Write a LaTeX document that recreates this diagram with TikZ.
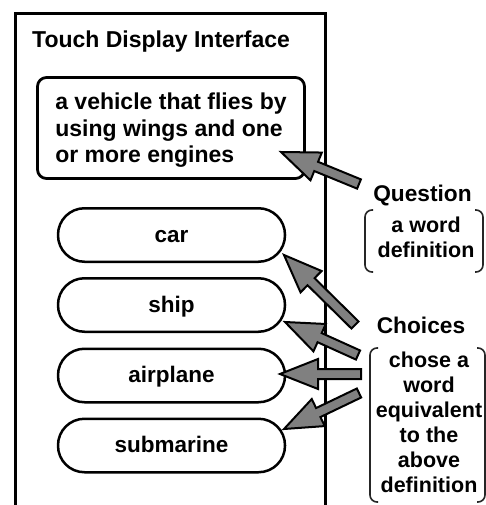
\documentclass[tikz,border=0pt]{standalone}
\usepackage{fontspec}
\setmainfont{Liberation Sans}
\usetikzlibrary{calc}
\tikzset{
  frameline/.style={line width=3pt, line cap=butt},
  titletext/.style={inner sep=0pt, font=\bfseries\fontsize{23}{27}\selectfont},
  defbox/.style={draw, line width=2.8pt, rounded corners=9pt, minimum width=267pt,
    minimum height=101pt, align=left, inner sep=0pt,
    font=\bfseries\fontsize{23}{26.5}\selectfont, text depth=0pt},
  pill/.style={draw, line width=2.5pt, rounded corners=26.5pt, minimum width=227pt,
    minimum height=53.5pt, inner sep=0pt, font=\bfseries\fontsize{22.5}{27}\selectfont,
    text height=16.5pt, text depth=2.5pt},
  sidelabel/.style={inner sep=0pt, font=\bfseries\fontsize{22.7}{27}\selectfont},
  sidetext/.style={inner sep=0pt, align=center, font=\bfseries\fontsize{21.5}{25}\selectfont},
  bracket/.style={line width=1.6pt, rounded corners=7pt, black!85},
  barrow/.style={draw=black, line width=2pt, fill=gray, line join=miter},
}
% #1 tail, #2 tip
\newcommand\blockarr[2]{%
  \path ($(#2)!38pt!(#1)$) coordinate (hb);
  \draw[barrow] (#2) -- ($(hb)!15pt!90:(#2)$) -- ($(hb)!5pt!90:(#2)$)
    -- ($(#1)!5pt!90:(#2)$) -- ($(#1)!5pt!-90:(#2)$)
    -- ($(hb)!5pt!-90:(#2)$) -- ($(hb)!15pt!-90:(#2)$) -- cycle;}
\begin{document}
\begin{tikzpicture}[x=1pt,y=-1pt]
\useasboundingbox (0,0) rectangle (486,505);
% outer display frame
\draw[frameline] (15,505) -- (15,14) -- (325,14) -- (325,505);
\node[titletext, anchor=base west] (title) at (32,48) {Touch Display Interface};
% question box
\node[defbox] (def) at (171,128) {a vehicle that flies by\\using wings and one\\or more engines};
% choices
\node[pill] (car) at (171.5,235) {car};
\node[pill] (ship) at (171.5,305) {ship};
\node[pill] (airplane) at (171.5,375.5) {airplane};
\node[pill] (submarine) at (171.5,445.5) {submarine};
% right side labels
\node[sidelabel, anchor=base] (qlabel) at (422.5,201) {Question};
\node[sidetext, anchor=north] (qtext) at (426,216.5) {a word\\definition};
\node[sidelabel, anchor=base] (clabel) at (421,333) {Choices};
\node[sidetext, anchor=north] (ctext) at (429,351.5) {chose a\\word\\equivalent\\to the\\above\\definition};
% brackets
\draw[bracket] (373,210) -- (365,210) -- (365,272) -- (373,272);
\draw[bracket] (475,210) -- (483,210) -- (483,272) -- (475,272);
\draw[bracket] (378,348) -- (370,348) -- (370,502) -- (378,502);
\draw[bracket] (477,348) -- (485,348) -- (485,502) -- (477,502);
% arrows
\coordinate (qtail) at (359,184);
\coordinate (qtip) at (281,152);
\coordinate (ctail) at (355,325);
\coordinate (ctip) at (284,255);
\coordinate (stail) at (358,355);
\coordinate (stip) at (285,322);
\coordinate (atail) at (361,374);
\coordinate (atip) at (280,374);
\coordinate (btail) at (359,393);
\coordinate (btip) at (284,429);
\blockarr{qtail}{qtip}
\blockarr{ctail}{ctip}
\blockarr{stail}{stip}
\blockarr{atail}{atip}
\blockarr{btail}{btip}
\end{tikzpicture}
\end{document}
